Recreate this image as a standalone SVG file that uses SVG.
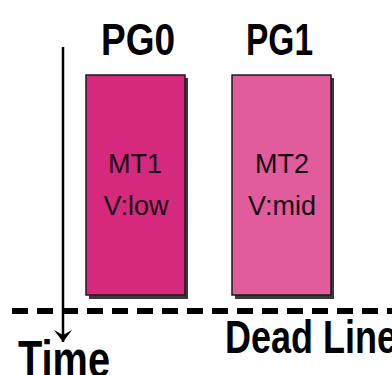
<svg xmlns="http://www.w3.org/2000/svg" width="392" height="375" viewBox="0 0 392 375">
  <style>
    .hdr { font-family: "Liberation Sans", Arial, sans-serif; font-weight: bold; fill: #000; }
    .lbl { font-family: "Liberation Sans", Arial, sans-serif; font-size: 27px; fill: #140810; text-anchor: middle; }
    .shadow { fill: #3a3a3a; }
    .box { stroke: #1a1a1a; stroke-width: 1.5; }
  </style>
  <defs>
    <marker id="arr" markerWidth="20" markerHeight="16" refX="10" refY="15" orient="0" markerUnits="userSpaceOnUse" viewBox="0 0 20 16">
      <path d="M1,3 L10,15 L19,3 L10,8 Z" fill="#000"/>
    </marker>
  </defs>
  <rect width="392" height="375" fill="#fff"/>

  <g id="connectors">
    <line id="deadline" x1="12" y1="311" x2="392" y2="311" stroke="#000" stroke-width="6" stroke-dasharray="16 9"/>
    <line id="time-axis" x1="63" y1="47" x2="63" y2="342" stroke="#000" stroke-width="2.5" marker-end="url(#arr)"/>
  </g>

  <g id="pg0">
    <text class="hdr" x="101" y="55" font-size="44" textLength="74" lengthAdjust="spacingAndGlyphs">PG0</text>
    <rect class="shadow" x="89" y="78" width="99" height="221"/>
    <rect class="box" x="86" y="75" width="99" height="220" fill="#D6287C"/>
    <text class="lbl" x="135" y="173">MT1</text>
    <text class="lbl" x="136" y="215">V:low</text>
  </g>

  <g id="pg1">
    <text class="hdr" x="246" y="55" font-size="44" textLength="67" lengthAdjust="spacingAndGlyphs">PG1</text>
    <rect class="shadow" x="235" y="78" width="99" height="221"/>
    <rect class="box" x="232" y="75" width="99" height="220" fill="#E05C9C"/>
    <text class="lbl" x="282" y="173">MT2</text>
    <text class="lbl" x="282" y="215">V:mid</text>
  </g>

  <g id="labels">
    <text class="hdr" x="225" y="353" font-size="46" textLength="172" lengthAdjust="spacingAndGlyphs">Dead Line</text>
    <text class="hdr" x="18" y="377" font-size="52" textLength="92" lengthAdjust="spacingAndGlyphs">Time</text>
  </g>
</svg>
